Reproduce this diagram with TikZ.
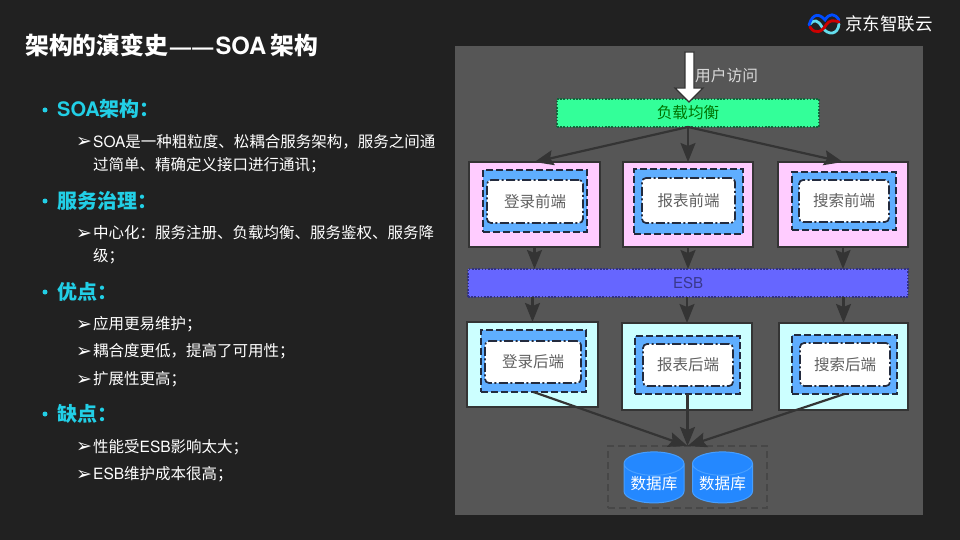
\documentclass[tikz,border=0pt]{standalone}
\usepackage{fontspec}
\setmainfont{Noto Sans CJK SC}
\newfontfamily\hv{TeX Gyre Heros}
\newfontfamily\dv{DejaVu Sans}
\newcommand{\E}[1]{{\hv #1}}
\definecolor{bgc}{HTML}{212121}
\definecolor{panel}{HTML}{565656}
\definecolor{headc}{HTML}{22CFE6}
\definecolor{edge}{HTML}{343434}
\definecolor{pinkc}{HTML}{FFCCFF}
\definecolor{cyanc}{HTML}{CCFFFF}
\definecolor{bluec}{HTML}{5FAEFF}
\definecolor{darkd}{HTML}{232B3E}
\definecolor{lbc}{HTML}{33FF99}
\definecolor{esbc}{HTML}{6666FF}
\definecolor{dbc}{HTML}{2488FF}
\usetikzlibrary{arrows.meta,shapes.geometric}
\tikzset{
  x=1pt,y=-1pt,
  boxn/.style={inner sep=0,outer sep=0},
  outerp/.style={boxn,draw=edge,line width=1.4pt,fill=pinkc},
  outerc/.style={boxn,draw=edge,line width=1.4pt,fill=cyanc},
  midb/.style={boxn,draw=darkd,line width=2pt,fill=bluec,dash pattern=on 7pt off 3pt},
  innerw/.style={boxn,draw=darkd,line width=1.7pt,fill=white,rounded corners=4pt,dash pattern=on 9pt off 2.5pt on 2pt off 2.5pt,text=black!62,font=\fontsize{15.5}{15}\selectfont},
  dotb/.style={boxn,line width=1.6pt,dash pattern=on 1.6pt off 1.6pt},
  conn/.style={draw=edge,line width=2.2pt,-{Stealth[length=19pt,width=15pt,inset=3pt]}},
  titlet/.style={anchor=base west,inner sep=0,text=white,font=\fontsize{23.8}{24}\selectfont\bfseries},
  headt/.style={anchor=base west,inner sep=0,text=headc,font=\fontsize{20}{20}\selectfont\bfseries},
  bodyt/.style={anchor=base west,inner sep=0,text=white,font=\fontsize{15.5}{16}\selectfont},
  markt/.style={anchor=base west,inner sep=0,text=white,font=\dv\fontsize{19}{19}\selectfont},
  bullt/.style={circle,fill=headc,inner sep=0,minimum size=5pt},
  dbn/.style={cylinder,shape border rotate=90,shape aspect=0.5,boxn,draw=bluec!60!dbc,line width=1pt,fill=dbc,text=white,font=\fontsize{15.6}{15}\selectfont,minimum width=60pt,minimum height=51pt},
  lblt/.style={inner sep=0,font=\fontsize{15.7}{15}\selectfont},
  dbgrp/.style={boxn,draw=black!72,line width=1.5pt,dash pattern=on 7pt off 4pt},
  bigarrow/.style={draw=edge,line width=1.2pt,fill=white,line join=miter},
  logol/.style={line width=2.8pt,line cap=round},
}
\newcommand{\bx}[7]{\node[#2,minimum width={(#5)-(#3)},minimum height={(#6)-(#4)}] (#1) at ({((#3)+(#5))/2},{((#4)+(#6))/2}) {#7};}
\begin{document}
\begin{tikzpicture}
\useasboundingbox (0,0) rectangle (960,540);
\fill[bgc] (0,0) rectangle (960,540);
\fill[panel] (455,46) rectangle (923,515);
% left text
\node[titlet] (title) at (25,55) {架构的演变史\E{\kern2pt{\fontsize{21}{24}\selectfont —\kern1.5pt—}\kern2pt SOA\kern4pt}架构};
\node[bullt] (b1) at (45,110) {};
\node[headt] (h1) at (57,117) {\E{SOA}架构：};
\node[markt] (m1) at (76,148) {➢};
\node[bodyt] (t1) at (93,148) {\E{SOA}是一种粗粒度、松耦合服务架构，服务之间通};
\node[bodyt] (t2) at (93,171) {过简单、精确定义接口进行通讯；};
\node[bullt] (b2) at (45,201) {};
\node[headt] (h2) at (57,208) {服务治理：};
\node[markt] (m2) at (76,239) {➢};
\node[bodyt] (t3) at (93,238) {中心化：服务注册、负载均衡、服务鉴权、服务降};
\node[bodyt] (t4) at (93,261) {级；};
\node[bullt] (b3) at (45,292) {};
\node[headt] (h3) at (57,299) {优点：};
\node[markt] (m3) at (76,330) {➢};
\node[bodyt] (t5) at (93,329) {应用更易维护；};
\node[markt] (m4) at (76,357) {➢};
\node[bodyt] (t6) at (93,356) {耦合度更低，提高了可用性；};
\node[markt] (m5) at (76,385) {➢};
\node[bodyt] (t7) at (93,384) {扩展性更高；};
\node[bullt] (b4) at (45,414) {};
\node[headt] (h4) at (57,421) {缺点：};
\node[markt] (m6) at (76,452) {➢};
\node[bodyt] (t8) at (93,452) {性能受\E{ESB}影响太大；};
\node[markt] (m7) at (76,480) {➢};
\node[bodyt] (t9) at (93,479) {\E{ESB}维护成本很高；};
% logo
\draw[logol,color=headc!70!white] (839,24) .. controls (838,35) and (828,36) .. (822,27) .. controls (818,20) and (814,19) .. (810,24);
\draw[logol,color=blue!70!cyan] (809,25) .. controls (813,12) and (820,14) .. (825,20) .. controls (829,13) and (835,13) .. (839,20);
\draw[logol,color=red!80!black] (810,27) .. controls (815,35) and (822,32) .. (826,25) .. controls (829,20) and (834,20) .. (839,22);
\node[anchor=base west,inner sep=0,text=white,font=\fontsize{17.5}{18}\selectfont] (logot) at (845,31) {京东智联云};
% boxes
\bx{lb}{dotb,draw=black!60!lbc,fill=lbc,text=green!45!black,font=\fontsize{15.6}{15}\selectfont}{557}{99}{819}{127}{负载均衡}
\bx{f1}{outerp}{469}{162}{600}{247}{}
\bx{fm1}{midb}{483}{170}{587}{232}{}
\bx{fw1}{innerw}{487}{180}{583}{223}{登录前端}
\bx{f2}{outerp}{623}{162}{753}{247}{}
\bx{fm2}{midb}{634}{169}{743}{234}{}
\bx{fw2}{innerw}{642}{178}{735}{223}{报表前端}
\bx{f3}{outerp}{778}{162}{908}{247}{}
\bx{fm3}{midb}{792}{172}{896}{230}{}
\bx{fw3}{innerw}{799}{180}{889}{222}{搜索前端}
\bx{esb}{dotb,draw=esbc!50!black,fill=esbc,text=esbc!55!black,font=\hv\fontsize{15}{15}\selectfont}{468}{269}{908}{297}{ESB}
\bx{b1x}{outerc}{467}{322}{598}{407}{}
\bx{bm1}{midb}{481}{330}{586}{392}{}
\bx{bw1}{innerw}{485}{341}{581}{383}{登录后端}
\bx{b2x}{outerc}{622}{323}{752}{410}{}
\bx{bm2}{midb}{635}{336}{740}{394}{}
\bx{bw2}{innerw}{643}{344}{733}{386}{报表后端}
\bx{b3x}{outerc}{779}{323}{908}{410}{}
\bx{bm3}{midb}{792}{335}{897}{394}{}
\bx{bw3}{innerw}{800}{343}{890}{386}{搜索后端}
\bx{dbg}{dbgrp}{608}{446}{767}{508}{}
\node[dbn] (db1) at (654,483.5) {数据库};
\node[dbn] (db2) at (722.5,483.5) {数据库};
% big arrow
\draw[bigarrow] (685,52) -- (694,52) -- (694,88) -- (703,88) -- (689,102) -- (675,88) -- (685,88) -- cycle;
\node[lblt,text=white!85!black,anchor=west] (user) at (695,76) {用户访问};
% connectors
\draw[conn] (lb.south) -- (f1.north);
\draw[conn] (lb.south) -- (f2.north);
\draw[conn] (lb.south) -- (f3.north);
\draw[conn] (f1.south) -- (f1.south |- esb.north);
\draw[conn] (f2.south) -- (f2.south |- esb.north);
\draw[conn] (f3.south) -- (f3.south |- esb.north);
\draw[conn] (b1x.north |- esb.south) -- (b1x.north);
\draw[conn] (b2x.north |- esb.south) -- (b2x.north);
\draw[conn] (b3x.north |- esb.south) -- (b3x.north);
\draw[conn] (bm1.south) -- (dbg.north);
\draw[conn] (bm2.south) -- (bm2.south |- dbg.north);
\draw[conn] (bm3.south) -- (dbg.north);
\end{tikzpicture}
\end{document}
